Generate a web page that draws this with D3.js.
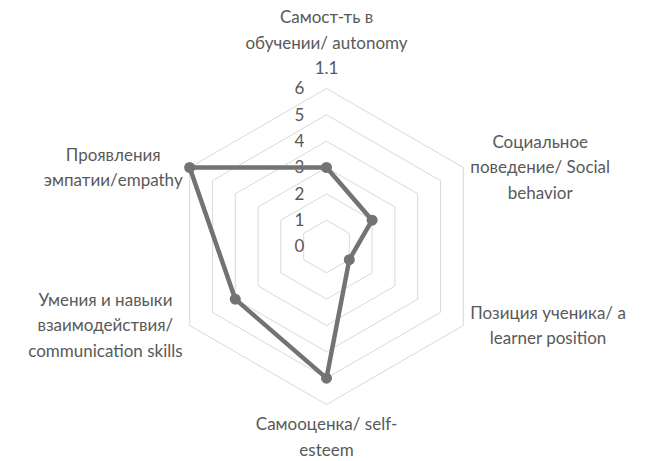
<!DOCTYPE html>
<html><head><meta charset="utf-8">
<script src="https://cdn.jsdelivr.net/npm/d3@7"></script>
<style>
html,body{margin:0;padding:0;background:#fff;}
svg{display:block;}
text{font-family:Lato,"Open Sans",sans-serif;fill:#595959;}
</style></head>
<body>
<div id="chart"></div>
<script>
const categories = [
  ["Самост-ть в","обучении/ autonomy","1.1"],
  ["Социальное","поведение/ Social","behavior"],
  ["Позиция ученика/ а","learner position"],
  ["Самооценка/ self-","esteem"],
  ["Умения и навыки","взаимодействия/","communication skills"],
  ["Проявления","эмпатии/empathy"]
];
const values = [3, 2, 1, 5, 4, 6];
const tickLabels = [0, 1, 2, 3, 4, 5, 6];

const W = 647, H = 461;
const cx = 326.5, cy = 246.5;
const fontSize = 17, lineH = 25.5, gap = 7;

const svg = d3.select("#chart").append("svg").attr("width", W).attr("height", H);
const r = d3.scaleLinear().domain([0, 6]).range([0, 158]);
const n = categories.length;
const ang = i => i * 2 * Math.PI / n;
const pt = (i, v) => [cx + r(v) * Math.sin(ang(i)), cy - r(v) * Math.cos(ang(i))];

// grid hexagons
const line = d3.line();
tickLabels.filter(t => t > 0).forEach(t => {
  const pts = d3.range(n).map(i => pt(i, t));
  pts.push(pts[0]);
  svg.append("path").attr("d", line(pts)).attr("fill", "none")
    .attr("stroke", "#d9d9d9").attr("stroke-width", 1);
});

// tick labels
svg.selectAll(".tick").data(tickLabels).enter().append("text")
  .attr("x", cx - 27).attr("y", d => cy - r(d))
  .attr("dy", "0.35em").attr("text-anchor", "middle")
  .style("font-size", fontSize + "px").text(d => d);

// series
const spts = values.map((v, i) => pt(i, v));
svg.append("path").attr("d", d3.line()(spts.concat([spts[0]])))
  .attr("fill", "none").attr("stroke", "#737373").attr("stroke-width", 4.5)
  .attr("stroke-linejoin", "round");
svg.selectAll(".dot").data(spts).enter().append("circle")
  .attr("cx", d => d[0]).attr("cy", d => d[1]).attr("r", 5.5).attr("fill", "#737373");

// category labels
categories.forEach((lines, i) => {
  const [vx, vy] = pt(i, 6);
  const g = svg.append("g");
  const t = g.append("text").attr("text-anchor", "middle").style("font-size", fontSize + "px");
  lines.forEach((l, k) => t.append("tspan").attr("x", 0).attr("y", k * lineH).attr("dy", "0.35em").text(l));
  const maxW = d3.max(t.selectAll("tspan").nodes(), s => s.getComputedTextLength());
  const blockH = (lines.length - 1) * lineH;
  let x, y0;
  const s = Math.sin(ang(i));
  if (Math.abs(s) < 1e-6) {
    x = vx;
    if (Math.cos(ang(i)) > 0) y0 = vy - gap - 9 - blockH - 4; // top: bottom of block above vertex
    else y0 = vy + gap + 9 + 4;
  } else {
    x = vx + Math.sign(s) * (gap + maxW / 2);
    y0 = vy - blockH / 2;
  }
  g.attr("transform", `translate(${x},${y0})`);
});
</script>
</body></html>
